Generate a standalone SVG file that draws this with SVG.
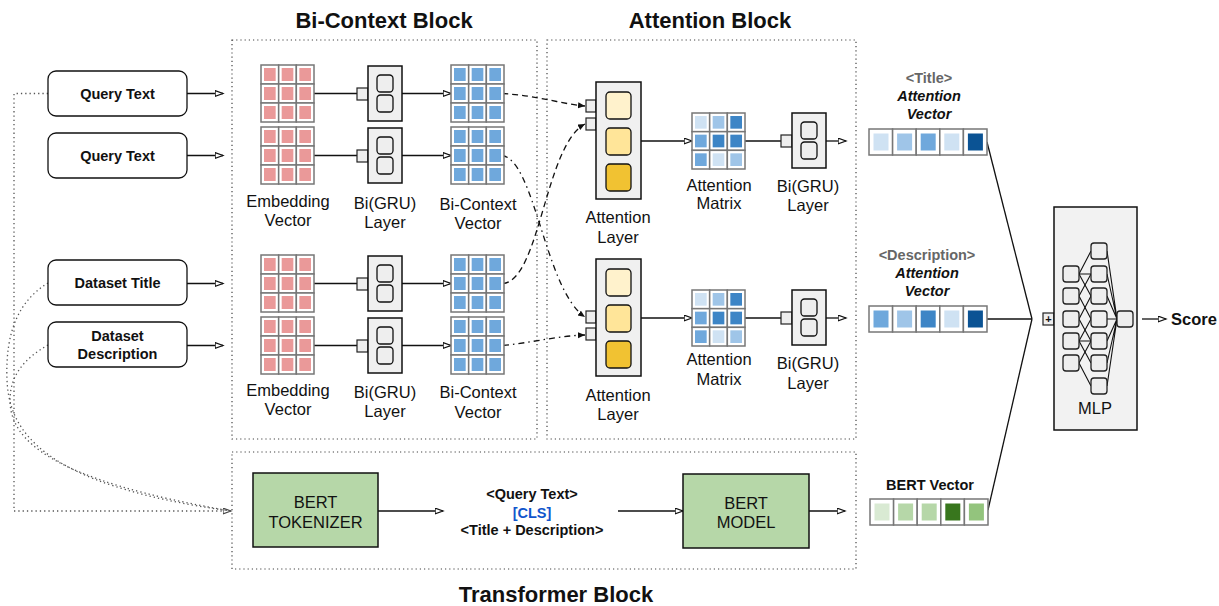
<svg xmlns="http://www.w3.org/2000/svg" width="1219" height="606" viewBox="0 0 1219 606">
<style>
  text { font-family: "Liberation Sans", Arial, sans-serif; fill: #111; }
  .lbl { font-size: 16.5px; text-anchor: middle; }
  .b { font-size: 14.5px; font-weight: bold; text-anchor: middle; }
  .bi { font-size: 14.5px; font-weight: bold; font-style: italic; text-anchor: middle; }
  .gray { fill: #666; }
  .title { font-size: 22px; font-weight: bold; text-anchor: middle; }
  .frame { fill: none; stroke: #444; stroke-width: 1.2; stroke-dasharray: 1.2 3; }
  .input { fill: #fff; stroke: #111; stroke-width: 1.3; }
  .gbox { fill: #F0F0F0; stroke: #111; stroke-width: 1.5; }
  .gin { fill: #EEEEEE; stroke: #111; stroke-width: 1.3; }
  .port { fill: #EEEEEE; stroke: #222; stroke-width: 1.2; }
  .cell { fill: #fff; stroke: #777; stroke-width: 1.5; }
  .green { fill: #B6D7A8; stroke: #111; stroke-width: 1.5; }
  .conn { fill: none; stroke: #111; stroke-width: 1.3; }
  .arr { marker-end: url(#open); }
  .dash { fill: none; stroke: #111; stroke-width: 1.3; stroke-dasharray: 6 4; marker-end: url(#solid); }
  .dashdot { fill: none; stroke: #111; stroke-width: 1.3; stroke-dasharray: 6 4 1.5 4; marker-end: url(#solid); }
  .dots { fill: none; stroke: #555; stroke-width: 1.3; stroke-dasharray: 1.3 3; }
  .mlpn { fill: #EEEEEE; stroke: #222; stroke-width: 1.3; }
  .mlpe { stroke: #111; stroke-width: 1.1; fill: none; }
</style>
<defs>
  <marker id="open" markerWidth="10" markerHeight="8" refX="8.5" refY="3.5" orient="auto" markerUnits="userSpaceOnUse">
    <path d="M0.6,0.6 L8.5,3.5 L0.6,6.4 Z" fill="#fff" stroke="#111" stroke-width="1.2"/>
  </marker>
  <marker id="openGray" markerWidth="10" markerHeight="8" refX="8.5" refY="3.5" orient="auto" markerUnits="userSpaceOnUse">
    <path d="M0.6,0.6 L8.5,3.5 L0.6,6.4 Z" fill="#fff" stroke="#444" stroke-width="1.1"/>
  </marker>
  <marker id="solid" markerWidth="9" markerHeight="8" refX="7" refY="3" orient="auto" markerUnits="userSpaceOnUse">
    <path d="M0,0 L7,3 L0,6 Z" fill="#111"/>
  </marker>

  <!-- 3x3 word-vector grid, white cells with a coloured core -->
  <g id="gridFrame">
    <rect class="cell" x="0" y="0" width="17.67" height="19"/>
    <rect class="cell" x="17.67" y="0" width="17.67" height="19"/>
    <rect class="cell" x="35.33" y="0" width="17.67" height="19"/>
    <rect class="cell" x="0" y="19" width="17.67" height="19"/>
    <rect class="cell" x="17.67" y="19" width="17.67" height="19"/>
    <rect class="cell" x="35.33" y="19" width="17.67" height="19"/>
    <rect class="cell" x="0" y="38" width="17.67" height="19"/>
    <rect class="cell" x="17.67" y="38" width="17.67" height="19"/>
    <rect class="cell" x="35.33" y="38" width="17.67" height="19"/>
  </g>
  <g id="gridCores">
    <rect x="3" y="3" width="11.67" height="13"/>
    <rect x="20.67" y="3" width="11.67" height="13"/>
    <rect x="38.33" y="3" width="11.67" height="13"/>
    <rect x="3" y="22" width="11.67" height="13"/>
    <rect x="20.67" y="22" width="11.67" height="13"/>
    <rect x="38.33" y="22" width="11.67" height="13"/>
    <rect x="3" y="41" width="11.67" height="13"/>
    <rect x="20.67" y="41" width="11.67" height="13"/>
    <rect x="38.33" y="41" width="11.67" height="13"/>
  </g>
  <g id="gridPink"><use href="#gridFrame"/><g fill="#EA9999"><use href="#gridCores"/></g></g>
  <g id="gridBlue"><use href="#gridFrame"/><g fill="#6FA8DC"><use href="#gridCores"/></g></g>

  <!-- attention matrix with graded blues -->
  <g id="attMatrix">
    <rect class="cell" x="0" y="0" width="17.67" height="18.67"/>
    <rect class="cell" x="17.67" y="0" width="17.67" height="18.67"/>
    <rect class="cell" x="35.33" y="0" width="17.67" height="18.67"/>
    <rect class="cell" x="0" y="18.67" width="17.67" height="18.67"/>
    <rect class="cell" x="17.67" y="18.67" width="17.67" height="18.67"/>
    <rect class="cell" x="35.33" y="18.67" width="17.67" height="18.67"/>
    <rect class="cell" x="0" y="37.33" width="17.67" height="18.67"/>
    <rect class="cell" x="17.67" y="37.33" width="17.67" height="18.67"/>
    <rect class="cell" x="35.33" y="37.33" width="17.67" height="18.67"/>
    <rect x="3" y="3" width="11.67" height="12.67" fill="#CFE2F3"/>
    <rect x="20.67" y="3" width="11.67" height="12.67" fill="#9FC5E8"/>
    <rect x="38.33" y="3" width="11.67" height="12.67" fill="#3D85C6"/>
    <rect x="3" y="21.67" width="11.67" height="12.67" fill="#6FA8DC"/>
    <rect x="20.67" y="21.67" width="11.67" height="12.67" fill="#3D85C6"/>
    <rect x="38.33" y="21.67" width="11.67" height="12.67" fill="#3D85C6"/>
    <rect x="3" y="40.33" width="11.67" height="12.67" fill="#6FA8DC"/>
    <rect x="20.67" y="40.33" width="11.67" height="12.67" fill="#CFE2F3"/>
    <rect x="38.33" y="40.33" width="11.67" height="12.67" fill="#9FC5E8"/>
  </g>

  <!-- Bi(GRU) unit with its input port -->
  <g id="gru">
    <rect class="port" x="-11" y="22" width="11" height="12"/>
    <rect class="gbox" x="0" y="0" width="34" height="55"/>
    <rect class="gin" x="9" y="9" width="16" height="17" rx="3.5"/>
    <rect class="gin" x="9" y="29" width="16" height="17" rx="3.5"/>
  </g>

  <!-- attention layer body -->
  <g id="attLayer">
    <rect class="gbox" x="0" y="0" width="45" height="117"/>
    <rect x="10" y="10" width="25" height="27" rx="4" fill="#FFF2CC" stroke="#111" stroke-width="1.3"/>
    <rect x="10" y="46" width="25" height="27" rx="4" fill="#FFE599" stroke="#111" stroke-width="1.3"/>
    <rect x="10" y="82" width="25" height="27" rx="4" fill="#F1C232" stroke="#111" stroke-width="1.3"/>
  </g>

  <!-- five-slot vector frame -->
  <g id="vec5">
    <rect class="cell" x="0" y="0" width="23.6" height="26"/>
    <rect class="cell" x="23.6" y="0" width="23.6" height="26"/>
    <rect class="cell" x="47.2" y="0" width="23.6" height="26"/>
    <rect class="cell" x="70.8" y="0" width="23.6" height="26"/>
    <rect class="cell" x="94.4" y="0" width="23.6" height="26"/>
  </g>
</defs>

<rect width="1219" height="606" fill="#fff"/>

<!-- block frames and titles -->
<g id="blocks">
  <rect class="frame" x="232" y="40" width="305" height="399"/>
  <rect class="frame" x="547" y="40" width="309" height="399"/>
  <rect class="frame" x="232" y="452" width="624" height="117"/>
  <text class="title" x="384" y="28">Bi-Context Block</text>
  <text class="title" x="710" y="28">Attention Block</text>
  <text class="title" x="556" y="602">Transformer Block</text>
</g>

<!-- connectors -->
<g id="connectors">
  <path class="conn arr" d="M187,93.5 H223"/>
  <path class="conn arr" d="M187,155.5 H223"/>
  <path class="conn arr" d="M187,283.5 H223"/>
  <path class="conn arr" d="M187,345.5 H223"/>

  <path class="conn" d="M314,93.5 H357"/>
  <path class="conn" d="M314,155.5 H357"/>
  <path class="conn" d="M314,283.5 H357"/>
  <path class="conn" d="M314,345.5 H357"/>

  <path class="conn arr" d="M402,93.5 H451"/>
  <path class="conn arr" d="M402,155.5 H451"/>
  <path class="conn arr" d="M402,283.5 H451"/>
  <path class="conn arr" d="M402,345.5 H451"/>

  <path class="dash" d="M502,93.5 C540,96 556,103 585,106"/>
  <path class="dashdot" d="M502,155.5 C535,160 545,290 585,317"/>
  <path class="dash" d="M503,283.5 C540,280 545,145 585,124"/>
  <path class="dashdot" d="M503,345.5 C530,343 556,336 585,335"/>

  <path class="conn arr" d="M641,141 H692"/>
  <path class="conn arr" d="M641,318 H692"/>
  <path class="conn" d="M745,141 H781"/>
  <path class="conn" d="M745,318 H781"/>
  <path class="conn arr" d="M826,141 H846"/>
  <path class="conn arr" d="M826,318 H846"/>

  <path class="conn" d="M987,142 L1032,319"/>
  <path class="conn" d="M987,319 H1032"/>
  <path class="conn" d="M988,510 L1032,319"/>

  <path class="conn arr" d="M1142,319 H1166"/>

  <path class="conn arr" d="M378,511 H443"/>
  <path class="conn arr" d="M618,511 H683"/>
  <path class="conn arr" d="M809,511 H845"/>

  <path class="dots" d="M48,93.5 H14 V511 H231" marker-end="url(#openGray)"/>
  <path class="dots" d="M48,283 C20,300 5,330 7,380 C9,430 40,485 231,511"/>
  <path class="dots" d="M48,345 C25,358 10,375 10,400 C10,440 50,480 231,511"/>
</g>

<!-- inputs -->
<g id="query-text-1">
  <rect class="input" x="48" y="71" width="139" height="45" rx="8"/>
  <text class="b" x="117.5" y="98.5">Query Text</text>
</g>
<g id="query-text-2">
  <rect class="input" x="48" y="133" width="139" height="45" rx="8"/>
  <text class="b" x="117.5" y="160.5">Query Text</text>
</g>
<g id="dataset-title">
  <rect class="input" x="48" y="260" width="139" height="45" rx="8"/>
  <text class="b" x="117.5" y="288">Dataset Title</text>
</g>
<g id="dataset-description">
  <rect class="input" x="48" y="322" width="139" height="45" rx="8"/>
  <text class="b" x="117.5" y="341">Dataset</text>
  <text class="b" x="117.5" y="359">Description</text>
</g>

<!-- bi-context block -->
<g id="embedding-1"><use href="#gridPink" x="261" y="65"/></g>
<g id="embedding-2"><use href="#gridPink" x="261" y="127"/></g>
<g id="embedding-3"><use href="#gridPink" x="261" y="255"/></g>
<g id="embedding-4"><use href="#gridPink" x="261" y="317"/></g>
<g id="gru-1"><use href="#gru" x="368" y="66"/></g>
<g id="gru-2"><use href="#gru" x="368" y="128"/></g>
<g id="gru-3"><use href="#gru" x="368" y="256"/></g>
<g id="gru-4"><use href="#gru" x="368" y="318"/></g>
<g id="bicontext-1"><use href="#gridBlue" x="451" y="65"/></g>
<g id="bicontext-2"><use href="#gridBlue" x="451" y="127"/></g>
<g id="bicontext-3"><use href="#gridBlue" x="451" y="255"/></g>
<g id="bicontext-4"><use href="#gridBlue" x="451" y="317"/></g>
<g id="bicontext-labels">
  <text class="lbl" x="288" y="207">Embedding</text>
  <text class="lbl" x="288" y="226">Vector</text>
  <text class="lbl" x="385" y="209">Bi(GRU)</text>
  <text class="lbl" x="385" y="228">Layer</text>
  <text class="lbl" x="478" y="210">Bi-Context</text>
  <text class="lbl" x="478" y="229">Vector</text>
  <text class="lbl" x="288" y="396">Embedding</text>
  <text class="lbl" x="288" y="415">Vector</text>
  <text class="lbl" x="385" y="398">Bi(GRU)</text>
  <text class="lbl" x="385" y="417">Layer</text>
  <text class="lbl" x="478" y="398">Bi-Context</text>
  <text class="lbl" x="478" y="418">Vector</text>
</g>

<!-- attention block -->
<g id="attention-layer-1">
  <rect class="port" x="586" y="100" width="10" height="12"/>
  <rect class="port" x="586" y="118" width="10" height="12"/>
  <use href="#attLayer" x="596" y="82"/>
  <text class="lbl" x="618" y="223">Attention</text>
  <text class="lbl" x="618" y="243">Layer</text>
</g>
<g id="attention-layer-2">
  <rect class="port" x="586" y="311" width="10" height="12"/>
  <rect class="port" x="586" y="328" width="10" height="12"/>
  <use href="#attLayer" x="596" y="259"/>
  <text class="lbl" x="618" y="401">Attention</text>
  <text class="lbl" x="618" y="420">Layer</text>
</g>
<g id="attention-matrix-1">
  <use href="#attMatrix" x="692" y="113"/>
  <text class="lbl" x="719" y="191">Attention</text>
  <text class="lbl" x="719" y="209">Matrix</text>
</g>
<g id="attention-matrix-2">
  <use href="#attMatrix" x="692" y="290"/>
  <text class="lbl" x="719" y="365">Attention</text>
  <text class="lbl" x="719" y="385">Matrix</text>
</g>
<g id="attention-gru-1">
  <use href="#gru" x="792" y="113"/>
  <text class="lbl" x="808" y="192">Bi(GRU)</text>
  <text class="lbl" x="808" y="211">Layer</text>
</g>
<g id="attention-gru-2">
  <use href="#gru" x="792" y="290"/>
  <text class="lbl" x="808" y="369">Bi(GRU)</text>
  <text class="lbl" x="808" y="389">Layer</text>
</g>

<!-- output vectors -->
<g id="title-attention-vector">
  <text class="b gray" x="929" y="83">&lt;Title&gt;</text>
  <text class="bi" x="929" y="101">Attention</text>
  <text class="bi" x="929" y="119">Vector</text>
  <use href="#vec5" x="869" y="129"/>
  <rect x="873.5" y="133.5" width="15" height="17" fill="#CFE2F3"/>
  <rect x="897.1" y="133.5" width="15" height="17" fill="#9FC5E8"/>
  <rect x="920.7" y="133.5" width="15" height="17" fill="#6FA8DC"/>
  <rect x="944.3" y="133.5" width="15" height="17" fill="#CFE2F3"/>
  <rect x="967.9" y="133.5" width="15" height="17" fill="#0B5394"/>
</g>
<g id="description-attention-vector">
  <text class="b gray" x="927" y="260">&lt;Description&gt;</text>
  <text class="bi" x="927" y="278">Attention</text>
  <text class="bi" x="927" y="296">Vector</text>
  <use href="#vec5" x="869" y="306"/>
  <rect x="873.5" y="310.5" width="15" height="17" fill="#6FA8DC"/>
  <rect x="897.1" y="310.5" width="15" height="17" fill="#9FC5E8"/>
  <rect x="920.7" y="310.5" width="15" height="17" fill="#3D85C6"/>
  <rect x="944.3" y="310.5" width="15" height="17" fill="#CFE2F3"/>
  <rect x="967.9" y="310.5" width="15" height="17" fill="#0B5394"/>
</g>
<g id="bert-vector">
  <text class="b" x="930" y="490">BERT Vector</text>
  <use href="#vec5" x="870" y="499"/>
  <rect x="874.5" y="503.5" width="15" height="17" fill="#D9EAD3"/>
  <rect x="898.1" y="503.5" width="15" height="17" fill="#B6D7A8"/>
  <rect x="921.7" y="503.5" width="15" height="17" fill="#B6D7A8"/>
  <rect x="945.3" y="503.5" width="15" height="17" fill="#38761D"/>
  <rect x="968.9" y="503.5" width="15" height="17" fill="#93C47D"/>
</g>

<!-- transformer block -->
<g id="bert-tokenizer">
  <rect class="green" x="253" y="473" width="125" height="74"/>
  <text class="lbl" x="315.5" y="508">BERT</text>
  <text class="lbl" x="315.5" y="528">TOKENIZER</text>
</g>
<g id="token-sequence">
  <text class="b" x="532" y="499">&lt;Query Text&gt;</text>
  <text class="b" x="532" y="518" style="fill:#1155CC">[CLS]</text>
  <text class="b" x="532" y="535">&lt;Title + Description&gt;</text>
</g>
<g id="bert-model">
  <rect class="green" x="683" y="474" width="126" height="74"/>
  <text class="lbl" x="746" y="509">BERT</text>
  <text class="lbl" x="746" y="528">MODEL</text>
</g>

<!-- scorer -->
<g id="concat">
  <rect class="port" x="1043" y="313" width="11" height="12"/>
  <text x="1048.5" y="323" style="font-size:11px;font-weight:bold;text-anchor:middle">+</text>
</g>
<g id="mlp">
  <rect class="gbox" x="1054" y="207" width="83" height="223" style="fill:#F2F2F2"/>
  <g class="mlpe">
    <path d="M1079,274 L1091,251 M1079,274 H1091 M1079,274 L1091,296"/>
    <path d="M1079,296 L1091,274 M1079,296 L1091,319"/>
    <path d="M1079,319 L1091,296 M1079,319 L1091,341"/>
    <path d="M1079,341 L1091,319 M1079,341 H1091 M1079,341 L1091,363"/>
    <path d="M1079,363 L1091,341 M1079,363 L1091,386"/>
    <path d="M1107,251 L1117,319 M1107,274 L1117,319 M1107,296 L1117,319 M1107,319 H1117 M1107,341 L1117,319 M1107,363 L1117,319 M1107,386 L1117,319"/>
  </g>
  <rect class="mlpn" x="1063" y="266" width="16" height="16" rx="3"/>
  <rect class="mlpn" x="1063" y="288" width="16" height="16" rx="3"/>
  <rect class="mlpn" x="1063" y="311" width="16" height="16" rx="3"/>
  <rect class="mlpn" x="1063" y="333" width="16" height="16" rx="3"/>
  <rect class="mlpn" x="1063" y="355" width="16" height="16" rx="3"/>
  <rect class="mlpn" x="1091" y="243" width="16" height="16" rx="3"/>
  <rect class="mlpn" x="1091" y="266" width="16" height="16" rx="3"/>
  <rect class="mlpn" x="1091" y="288" width="16" height="16" rx="3"/>
  <rect class="mlpn" x="1091" y="311" width="16" height="16" rx="3"/>
  <rect class="mlpn" x="1091" y="333" width="16" height="16" rx="3"/>
  <rect class="mlpn" x="1091" y="355" width="16" height="16" rx="3"/>
  <rect class="mlpn" x="1091" y="378" width="16" height="16" rx="3"/>
  <rect class="mlpn" x="1117" y="311" width="16" height="16" rx="3"/>
  <text class="lbl" x="1095" y="414">MLP</text>
</g>
<g id="score">
  <text x="1171" y="325" style="font-size:16.5px;font-weight:bold">Score</text>
</g>
</svg>
